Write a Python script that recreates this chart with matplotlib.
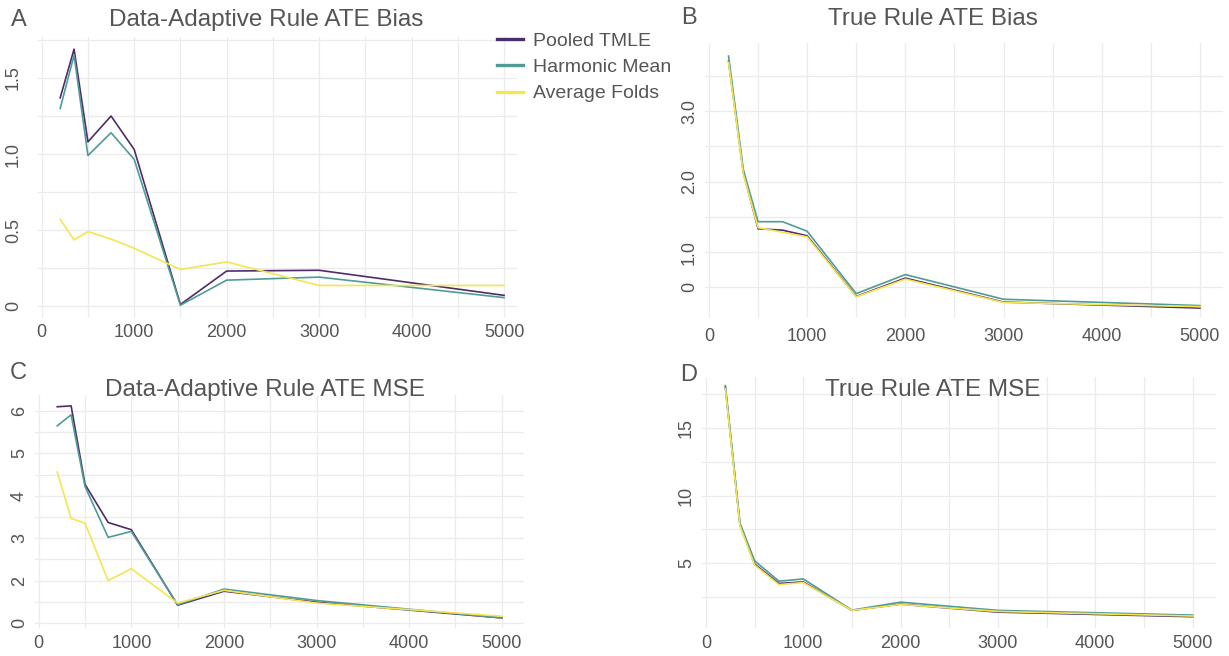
import matplotlib
matplotlib.use("Agg")
import matplotlib.pyplot as plt
import numpy as np

plt.rcParams["font.family"] = ["Liberation Sans", "DejaVu Sans"]

W, H = 1229, 656

# sample sizes shared by all panels
n_obs = [200, 350, 500, 750, 1000, 1500, 2000, 3000, 5000]

series_names = ["Pooled TMLE", "Harmonic Mean", "Average Folds"]
series_colors = ["#4d2c6c", "#4f9b97", "#f4e551"]

# A: data-adaptive rule, ATE bias
da_bias_pooled = [1.37, 1.69, 1.08, 1.25, 1.03, 0.01, 0.23, 0.235, 0.07]
da_bias_harmonic = [1.30, 1.65, 0.99, 1.14, 0.965, 0.005, 0.17, 0.19, 0.055]
da_bias_average = [0.57, 0.435, 0.49, 0.44, 0.38, 0.24, 0.29, 0.135, 0.135]

# B: true rule, ATE bias
tr_bias_pooled = [3.71, 2.13, 1.33, 1.31, 1.23, 0.37, 0.63, 0.29, 0.205]
tr_bias_harmonic = [3.78, 2.17, 1.43, 1.43, 1.295, 0.41, 0.68, 0.33, 0.24]
tr_bias_average = [3.69, 2.11, 1.345, 1.28, 1.215, 0.365, 0.615, 0.285, 0.225]

# C: data-adaptive rule, ATE MSE
da_mse_pooled = [6.10, 6.12, 4.27, 3.37, 3.20, 1.42, 1.75, 1.49, 1.12]
da_mse_harmonic = [5.65, 5.91, 4.22, 3.02, 3.16, 1.43, 1.80, 1.53, 1.12]
da_mse_average = [4.56, 3.47, 3.35, 2.00, 2.28, 1.47, 1.77, 1.47, 1.16]

# D: true rule, ATE MSE
tr_mse_pooled = [18.02, 7.83, 4.93, 3.48, 3.60, 1.49, 1.95, 1.36, 1.02]
tr_mse_harmonic = [18.14, 7.95, 5.17, 3.65, 3.82, 1.51, 2.10, 1.49, 1.14]
tr_mse_average = [17.90, 7.75, 4.85, 3.40, 3.55, 1.49, 1.93, 1.41, 1.07]

x_ticks = [0, 1000, 2000, 3000, 4000, 5000]
x_ticklabels = ["0", "1000", "2000", "3000", "4000", "5000"]

TEXT = "#555555"
GRID = "#ebebeb"


def px_rect(left, right, top, bottom):
    return [left / W, 1 - bottom / H, (right - left) / W, (bottom - top) / H]


def make_panel(fig, rect, series, xlim, ylim, grid_y, yticks, yticklabels,
               ypad, xpad):
    ax = fig.add_axes(px_rect(*rect))
    ax.set_xlim(*xlim)
    ax.set_ylim(*ylim)
    for gx in np.arange(0, 5001, 500):
        ax.axvline(gx, color=GRID, lw=0.9, zorder=0)
    for gy in grid_y:
        ax.axhline(gy, color=GRID, lw=0.9, zorder=0)
    lines = []
    for vals, name, col in zip(series, series_names, series_colors):
        ln, = ax.plot(n_obs, vals, color=col, lw=1.2, label=name, zorder=2)
        lines.append(ln)
    for s in ax.spines.values():
        s.set_visible(False)
    ax.set_xticks(x_ticks)
    ax.set_xticklabels(x_ticklabels)
    ax.set_yticks(yticks)
    ax.set_yticklabels(yticklabels, rotation=90, va="center")
    ax.tick_params(axis="both", length=0, labelsize=13, colors=TEXT)
    ax.tick_params(axis="y", pad=ypad)
    ax.tick_params(axis="x", pad=xpad)
    return ax, lines


fig = plt.figure(figsize=(W / 100, H / 100), dpi=100)

ax_a, handles = make_panel(
    fig, (38, 517, 37, 318),
    [da_bias_pooled, da_bias_harmonic, da_bias_average],
    (-40, 5140), (-0.079, 1.77),
    np.arange(0, 1.76, 0.25), [0, 0.5, 1.0, 1.5], ["0", "0.5", "1.0", "1.5"],
    ypad=11.5, xpad=4.5)

ax_b, _ = make_panel(
    fig, (705, 1223, 43, 318),
    [tr_bias_pooled, tr_bias_harmonic, tr_bias_average],
    (-40, 5235), (0.064, 3.965),
    np.arange(0.5, 3.51, 0.5), [0.5, 1.0, 2.0, 3.0], ["0", "1.0", "2.0", "3.0"],
    ypad=5, xpad=7)

ax_c, _ = make_panel(
    fig, (35, 524, 395, 628),
    [da_mse_pooled, da_mse_harmonic, da_mse_average],
    (-40, 5240), (0.882, 6.377),
    np.arange(1, 6.01, 0.5), [1, 2, 3, 4, 5, 6], ["0", "2", "3", "4", "5", "6"],
    ypad=5, xpad=5)

ax_d, _ = make_panel(
    fig, (702, 1216, 377, 628),
    [tr_mse_pooled, tr_mse_harmonic, tr_mse_average],
    (-40, 5240), (0.185, 18.78),
    np.arange(2.5, 17.6, 2.5), [5, 10, 15], ["5", "10", "15"],
    ypad=5, xpad=5)

# panel titles and letters, placed in figure pixels
titles = [
    (266, 20, "Data-Adaptive Rule ATE Bias"),
    (933, 19, "True Rule ATE Bias"),
    (265, 390, "Data-Adaptive Rule ATE MSE"),
    (933, 390, "True Rule ATE MSE"),
]
for x, y, t in titles:
    fig.text(x / W, 1 - y / H, t, ha="center", va="center", fontsize=17.5,
             color=TEXT)

letters = [(19, 20, "A"), (689, 18, "B"), (18, 373, "C"), (689, 375, "D")]
for x, y, t in letters:
    fig.text(x / W, 1 - y / H, t, ha="center", va="center", fontsize=17,
             color=TEXT)

leg = fig.legend(handles, series_names, loc="upper left",
                 bbox_to_anchor=(497 / W, 1 - 32 / H), frameon=False,
                 fontsize=14, handlelength=1.35, handletextpad=0.5,
                 labelspacing=0.45, borderaxespad=0, borderpad=0)
for ln in leg.get_lines():
    ln.set_linewidth(2.4)
for txt in leg.get_texts():
    txt.set_color(TEXT)

fig.savefig("out.png", dpi=100)
